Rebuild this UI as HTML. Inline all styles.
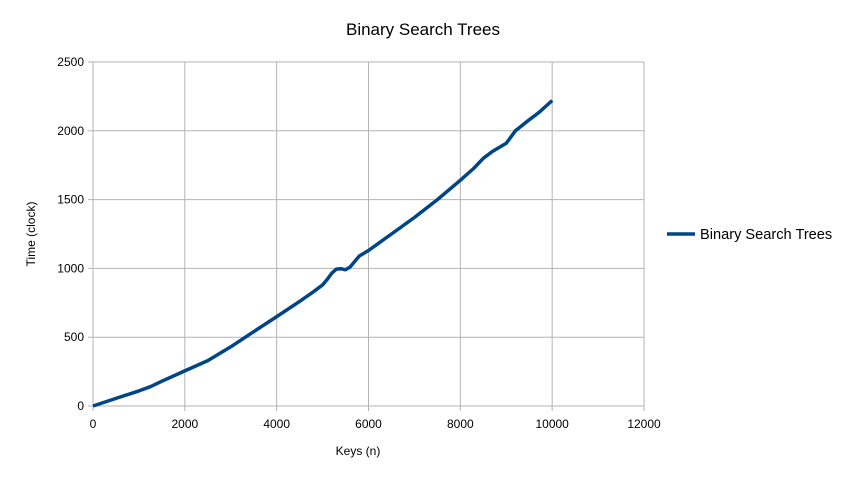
<!DOCTYPE html>
<html><head><meta charset="utf-8"><style>
body{margin:0;background:#fff;font-family:"Liberation Sans",sans-serif;}
svg text{font-family:"Liberation Sans",sans-serif;}
</style></head><body>
<svg width="848" height="477">
<text x="423" y="35" font-size="17" text-anchor="middle" fill="#000">Binary Search Trees</text>
<g id="grid"></g>
<g id="ticks"></g>
<path id="line" fill="none" stroke="#004586" stroke-width="3.5" stroke-linejoin="round"/>
<text x="358" y="455" font-size="12" text-anchor="middle">Keys (n)</text>
<text transform="translate(35,234) rotate(-90)" font-size="12" text-anchor="middle">Time (clock)</text>
<g>
<line x1="667" y1="234" x2="695" y2="234" stroke="#004586" stroke-width="3.5"/>
<text x="700" y="239" font-size="14.6">Binary Search Trees</text>
</g>
</svg>
<script>
const xs=[0,500,1000,1250,1500,2000,2500,3000,3500,4000,4500,4800,5000,5100,5200,5300,5400,5500,5600,5700,5800,6000,6500,7000,7500,8000,8300,8500,8700,9000,9200,9500,9700,10000];
const ys=[0,55,110,140,180,255,330,430,540,650,760,830,880,920,965,995,998,990,1010,1050,1090,1130,1250,1370,1500,1640,1730,1800,1850,1910,2000,2080,2130,2220];
const xTicks=[0,2000,4000,6000,8000,10000,12000];
const yTicks=[0,500,1000,1500,2000,2500];
const L=93,R=644,T=62,B=406;
const X=v=>L+v/12000*(R-L), Y=v=>B-v/2500*(B-T);
const ns="http://www.w3.org/2000/svg";
const g=document.getElementById('grid'), tk=document.getElementById('ticks');
xTicks.forEach(t=>{
 const l=document.createElementNS(ns,'line');
 
 
 l.setAttribute('x1',X(t));l.setAttribute('x2',X(t));l.setAttribute('y1',T);l.setAttribute('y2',B+5);
 l.setAttribute('stroke','#b3b3b3');g.appendChild(l);
 const s=document.createElementNS(ns,'text');
 
 
 s.setAttribute('x',X(t));s.setAttribute('y',B+22);s.setAttribute('font-size','12');s.setAttribute('text-anchor','middle');
 s.textContent=t;tk.appendChild(s);
});
yTicks.forEach(t=>{
 const l=document.createElementNS(ns,'line');
 
 
 l.setAttribute('x1',L-5);l.setAttribute('x2',R);l.setAttribute('y1',Y(t));l.setAttribute('y2',Y(t));
 l.setAttribute('stroke','#b3b3b3');g.appendChild(l);
 const s=document.createElementNS(ns,'text');
 
 
 s.setAttribute('x',L-9);s.setAttribute('y',Y(t)+4);s.setAttribute('font-size','12');s.setAttribute('text-anchor','end');
 s.textContent=t;tk.appendChild(s);
});
document.getElementById('line').setAttribute('d',xs.map((x,i)=>(i?'L':'M')+X(x).toFixed(1)+','+Y(ys[i]).toFixed(1)).join(''));
</script>
</body></html>
